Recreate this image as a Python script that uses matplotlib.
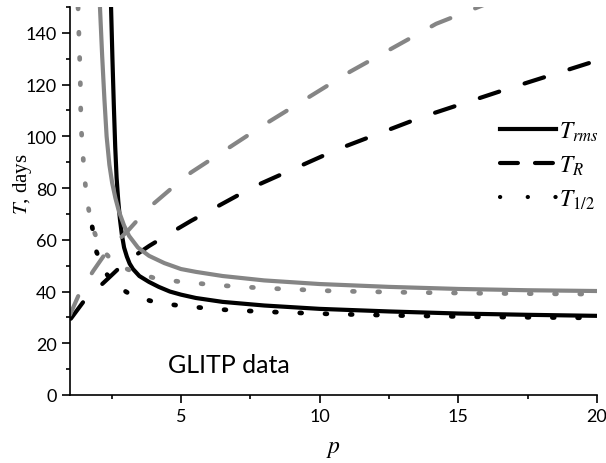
import numpy as np
import matplotlib
matplotlib.use('Agg')
import matplotlib.pyplot as plt
from matplotlib.lines import Line2D

plt.rcParams['mathtext.fontset'] = 'stix'

# values
p_rms_black = [2.48, 2.53, 2.58, 2.63, 2.68, 2.74, 2.80, 2.87, 2.95, 3.05, 3.15, 3.27, 3.5,
               3.85, 4.2, 4.6, 5.0, 5.54, 6.5, 8.0, 10.0, 12.5, 15.0, 17.5, 20.0]
t_rms_black = [150, 130, 112, 96, 84, 75, 68, 62, 57, 53.5, 50.8, 48.7, 46.0,
               43.7, 41.8, 40.0, 38.8, 37.5, 36.0, 34.6, 33.3, 32.3, 31.5, 31.0, 30.6]

p_rms_gray = [2.08, 2.16, 2.24, 2.32, 2.42, 2.52, 2.64, 2.77, 2.95, 3.13, 3.45, 3.85, 4.4,
              5.0, 5.54, 6.5, 8.0, 10.0, 12.5, 15.0, 17.5, 20.0]
t_rms_gray = [150, 131, 114.5, 100, 89, 82, 76, 70.8, 65.5, 61.5, 57.0, 53.8, 51.0,
              48.7, 47.6, 46.0, 44.3, 42.9, 41.8, 41.0, 40.5, 40.2]

p_r_black = [1.03, 1.5, 2.37, 3.0, 3.85, 4.57, 5.36, 7.6, 10.65, 13.7, 16.76, 20.0]
t_r_black = [29.5, 36.3, 45.0, 51.4, 57.6, 62.3, 67.3, 80.4, 95.0, 107.5, 118.3, 129.3]

p_r_gray = [1.0, 1.36, 1.84, 2.32, 3.13, 3.8, 4.64, 5.36, 8.0, 11.1, 14.2, 16.2]
t_r_gray = [31.0, 39.8, 48.0, 55.4, 64.0, 72.0, 79.7, 86.0, 104.5, 125.0, 143.5, 152.0]

p_half_black = [1.80, 1.96, 2.3, 2.7, 3.27, 4.17, 5.07, 6.5, 8.0, 10.5, 13.0, 16.0, 20.0]
t_half_black = [65, 55.2, 47, 42, 38.3, 35.6, 34.4, 33.0, 32.2, 31.3, 30.7, 30.2, 29.8]

p_half_gray = [1.29, 1.31, 1.34, 1.37, 1.38, 1.40, 1.46, 1.52, 1.62, 1.80, 2.1, 2.6, 3.2,
               4.1, 5.04, 6.5, 8.0, 10.5, 13.0, 16.0, 20.0]
t_half_gray = [150, 143.5, 133, 123, 113.7, 104, 94, 84.7, 74.6, 65, 57, 51, 48,
               45, 43.7, 42.3, 41.3, 40.2, 39.7, 39.3, 39.0]

legend_labels = [r'$T_{rms}$', r'$T_R$', r'$T_{1/2}$']

gray = '#858585'
lw = 3.0
lw_dot = 3.4
dashed = (0, (4.9, 6.4))
dotted = (0, (0.4, 4.95))

fig = plt.figure(figsize=(6.06, 4.64), dpi=100)
ax = fig.add_axes([70 / 606, 68 / 464, 527 / 606, 388 / 464])

def draw(x, y, color, ls, width=lw):
    ax.plot(x, y, color=color, lw=width, linestyle=ls,
            dash_capstyle='round', solid_capstyle='butt', solid_joinstyle='round')

draw(p_r_black, t_r_black, 'black', dashed)
draw(p_half_black, t_half_black, 'black', dotted, lw_dot)
draw(p_rms_black, t_rms_black, 'black', '-')
draw(p_r_gray, t_r_gray, gray, dashed)
draw(p_half_gray, t_half_gray, gray, dotted, lw_dot)
draw(p_rms_gray, t_rms_gray, gray, '-')

ax.set_xlim(1, 20)
ax.set_ylim(0, 150)
ax.spines['top'].set_visible(False)
ax.spines['right'].set_visible(False)
for s in ['left', 'bottom']:
    ax.spines[s].set_linewidth(1.2)

ax.set_xticks([5, 10, 15, 20])
ax.set_xticks([2.5, 7.5, 12.5, 17.5], minor=True)
ax.set_yticks(np.arange(0, 141, 20))
ax.set_yticks(np.arange(10, 151, 20), minor=True)
ax.tick_params(which='major', length=6, width=1.2, direction='out', pad=3.5)
ax.tick_params(which='minor', length=3, width=1.2, direction='out')
for lab in ax.get_xticklabels() + ax.get_yticklabels():
    lab.set_family('Lato')
    lab.set_fontsize(13)

ax.set_xlabel(r'$p$', fontsize=17, labelpad=8)
ax.set_ylabel(r'$T$, days', fontsize=15, family='Liberation Serif')
ax.yaxis.set_label_coords(-0.068, 0.545)

ax.text(4.53, 8.9, 'GLITP data', family='Lato', fontsize=18, va='baseline')

handles = [Line2D([], [], color='black', lw=lw, linestyle=ls, dash_capstyle='round')
           for ls in ['-', (0, (4.3, 4.1)), (0, (0.05, 6.6))]]
ax.legend(handles, legend_labels, loc='upper left', bbox_to_anchor=(0.815, 0.712),
          frameon=False, fontsize=17, handlelength=2.4, handletextpad=0.12,
          labelspacing=0.4, borderaxespad=0, borderpad=0)

fig.savefig('out.png', dpi=100)
